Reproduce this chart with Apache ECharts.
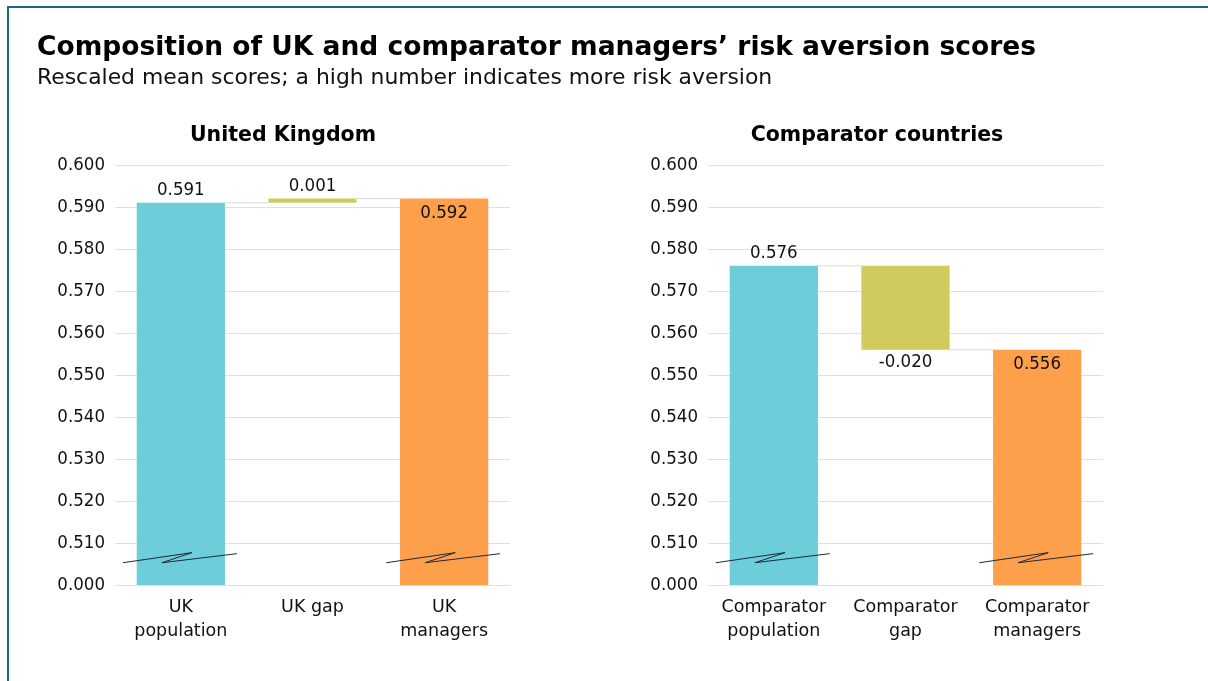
<!DOCTYPE html>
<html><head><meta charset="utf-8">
<script src="https://cdn.jsdelivr.net/npm/echarts@6/dist/echarts.min.js"></script>
<style>html,body{margin:0;padding:0;background:#fff}#c{width:1208px;height:681px}</style>
</head><body><div id="c"></div>
<script>
// ---- data ----
const ukCategories = ['UK\npopulation', 'UK gap', 'UK\nmanagers'];
const ukValues = [0.591, 0.001, 0.592];
const compCategories = ['Comparator\npopulation', 'Comparator\ngap', 'Comparator\nmanagers'];
const compValues = [0.576, -0.020, 0.556];
const yTickLabels = ['0.000', '0.510', '0.520', '0.530', '0.540', '0.550', '0.560', '0.570', '0.580', '0.590', '0.600'];
const breakCategories = [0, 2];

const FONT = '"DejaVu Sans Condensed", "DejaVu Sans", sans-serif';
const WIDE = '"DejaVu Sans", sans-serif';
const COLORS = ['#6dcdda', '#cfcb5d', '#fe9f4c'];
const AXIS_MIN = 0.5, AXIS_MAX = 0.6, STEP = 0.01;

function waterfall(vals) {
  const pop = vals[0], gap = vals[1], mgr = vals[2];
  return {
    base: [0, pop + Math.min(gap, 0), 0],
    height: [pop, Math.abs(gap), mgr],
    labelPos: ['top', gap >= 0 ? 'top' : 'bottom', 'insideTop'],
    connectors: [[0, pop], [1, mgr]]
  };
}

function panelSeries(vals, idx) {
  const w = waterfall(vals);
  return [
    {
      type: 'bar', xAxisIndex: idx, yAxisIndex: idx, stack: 's' + idx,
      data: w.base, itemStyle: { color: 'transparent' }, silent: true, barWidth: '67%'
    },
    {
      type: 'bar', xAxisIndex: idx, yAxisIndex: idx, stack: 's' + idx, barWidth: '67%',
      data: w.height.map((h, i) => ({
        value: h,
        itemStyle: { color: COLORS[i] },
        label: {
          show: true, position: w.labelPos[i], distance: i === 2 ? 5 : 3,
          formatter: () => vals[i].toFixed(3),
          fontFamily: FONT, fontSize: 18.5, color: '#111'
        }
      }))
    },
    {
      type: 'custom', xAxisIndex: idx, yAxisIndex: idx, silent: true, z: 1,
      data: w.connectors,
      renderItem: (params, api) => {
        const i = api.value(0), lvl = api.value(1);
        const bw = api.size([1, 0])[0];
        const half = bw * 0.335;
        const p1 = api.coord([i, lvl]);
        const p2 = api.coord([i + 1, lvl]);
        return {
          type: 'line',
          shape: { x1: p1[0] + half, y1: p1[1], x2: p2[0] - half, y2: p2[1] },
          style: { stroke: '#d9d9d9', lineWidth: 1 }
        };
      }
    },
    {
      type: 'custom', xAxisIndex: idx, yAxisIndex: idx, silent: true, z: 5,
      data: breakCategories.map(c => [c, 0.5055]),
      renderItem: (params, api) => {
        const c = api.value(0);
        const bw = api.size([1, 0])[0];
        const lo = api.coord([c, 0.5053]);
        const hi = api.coord([c, 0.5077]);
        return {
          type: 'polyline',
          shape: { points: [
            [lo[0] - 0.44 * bw, lo[1]],
            [lo[0] + 0.084 * bw, hi[1]],
            [lo[0] - 0.144 * bw, lo[1]],
            [lo[0] + 0.425 * bw, hi[1] + 1]
          ] },
          style: { stroke: '#1d2a38', lineWidth: 1, fill: null }
        };
      }
    }
  ];
}

function yAxis(idx) {
  return {
    type: 'value', gridIndex: idx, min: AXIS_MIN, max: AXIS_MAX, interval: STEP,
    axisLine: { show: false }, axisTick: { show: false },
    splitLine: { lineStyle: { color: '#e0e0e0', width: 1 } },
    axisLabel: {
      fontFamily: FONT, fontSize: 18.5, color: '#111', margin: 10,
      formatter: v => yTickLabels[Math.round((v - AXIS_MIN) / STEP)]
    }
  };
}
function xAxis(idx, cats) {
  return {
    type: 'category', gridIndex: idx, data: cats,
    axisLine: { show: true, lineStyle: { color: '#e0e0e0', width: 1 } },
    axisTick: { show: false },
    axisLabel: { fontFamily: WIDE, fontSize: 17.5, color: '#111', margin: 10, lineHeight: 24, interval: 0 }
  };
}

const chart = echarts.init(document.getElementById('c'));
chart.setOption({
  backgroundColor: '#fff',
  animation: false,
  title: [
    { text: 'Composition of UK and comparator managers’ risk aversion scores', left: 32, top: 30,
      textStyle: { fontFamily: WIDE, fontSize: 26.5, fontWeight: 'bold', color: '#000' } },
    { text: 'Rescaled mean scores; a high number indicates more risk aversion', left: 32, top: 62,
      textStyle: { fontFamily: WIDE, fontSize: 21.9, fontWeight: 'normal', color: '#111' } },
    { text: 'United Kingdom', left: 278, top: 120, textAlign: 'center',
      textStyle: { fontFamily: WIDE, fontSize: 20.5, fontWeight: 'bold', color: '#000' } },
    { text: 'Comparator countries', left: 872, top: 120, textAlign: 'center',
      textStyle: { fontFamily: WIDE, fontSize: 20.5, fontWeight: 'bold', color: '#000' } }
  ],
  grid: [
    { left: 115, right: 698, top: 165, bottom: 96 },
    { left: 708, right: 105, top: 165, bottom: 96 }
  ],
  xAxis: [xAxis(0, ukCategories), xAxis(1, compCategories)],
  yAxis: [yAxis(0), yAxis(1)],
  series: [...panelSeries(ukValues, 0), ...panelSeries(compValues, 1)],
  graphic: [
    { type: 'line', shape: { x1: 7, y1: 7, x2: 1208, y2: 7 }, style: { stroke: '#1a6490', lineWidth: 2 }, silent: true },
    { type: 'line', shape: { x1: 8, y1: 6, x2: 8, y2: 681 }, style: { stroke: '#1a6490', lineWidth: 2 }, silent: true }
  ]
});
</script></body></html>
